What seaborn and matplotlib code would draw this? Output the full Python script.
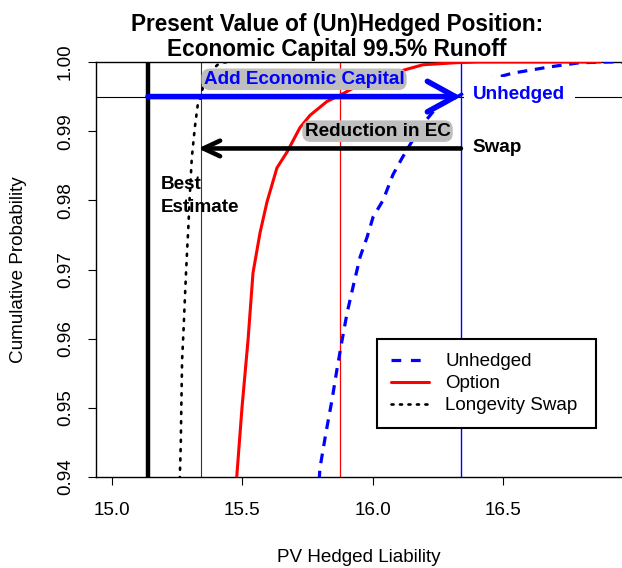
import matplotlib
matplotlib.use("Agg")
import matplotlib.pyplot as plt
import seaborn as sns
import pandas as pd
from matplotlib.lines import Line2D

# ---- data ----
unhedged_x = [15.795, 15.798, 15.821, 15.844, 15.863, 15.883, 15.902, 15.925, 15.952, 15.979,
              16.002, 16.040, 16.078, 16.113, 16.132, 16.182, 16.232, 16.251, 16.29, 16.34,
              16.400, 16.539, 16.681, 16.796, 16.911, 16.96]
unhedged_y = [0.9395, 0.9413, 0.9464, 0.9511, 0.9555, 0.9598, 0.9637, 0.9675, 0.9718, 0.9747,
              0.9776, 0.9800, 0.9837, 0.9861, 0.9873, 0.9905, 0.9928, 0.9935, 0.9943, 0.9953,
              0.9970, 0.9984, 0.9993, 0.9999, 1.0, 1.0]

option_x = [15.478, 15.499, 15.522, 15.541, 15.568, 15.595, 15.633, 15.672, 15.721, 15.760,
            15.825, 15.875, 15.925, 16.028, 16.117, 16.193, 16.32, 16.41, 16.873]
option_y = [0.9397, 0.9501, 0.9598, 0.9695, 0.9753, 0.9798, 0.9847, 0.9870, 0.9905, 0.9923,
            0.9943, 0.9952, 0.9962, 0.9978, 0.9988, 0.9996, 0.9999, 1.0, 1.0]

swap_x = [15.260, 15.264, 15.266, 15.269, 15.274, 15.279, 15.284, 15.289, 15.293, 15.297,
          15.306, 15.318, 15.330, 15.342, 15.349, 15.376, 15.414, 15.45]
swap_y = [0.9397, 0.9449, 0.9501, 0.9569, 0.9608, 0.9652, 0.9695, 0.9733, 0.9761, 0.9796,
          0.9860, 0.9906, 0.9941, 0.9950, 0.9964, 0.9986, 0.9999, 1.0]

best_estimate = 15.138
quantile_swap = 15.342
quantile_option = 15.875
quantile_unhedged = 16.339
level = 0.995
swap_arrow_y = 0.9875

x_ticks = [15.0, 15.5, 16.0, 16.5]
x_tick_labels = ["15.0", "15.5", "16.0", "16.5"]
y_ticks = [0.94, 0.95, 0.96, 0.97, 0.98, 0.99, 1.00]
y_tick_labels = ["0.94", "0.95", "0.96", "0.97", "0.98", "0.99", "1.00"]
series_names = ["Unhedged", "Option", "Longevity Swap"]

# ---- style ----
sns.set_theme(style="ticks")
plt.rcParams["font.family"] = ["Liberation Sans", "DejaVu Sans"]
plt.rcParams["lines.scale_dashes"] = False
for k in ["text.color", "axes.labelcolor", "xtick.color", "ytick.color", "axes.edgecolor"]:
    plt.rcParams[k] = "black"

W, H = 622, 568
fig = plt.figure(figsize=(W / 100, H / 100), dpi=100)
L, R, B, T = 96, 622, 477, 62
ax = fig.add_axes([L / W, 1 - B / H, (R - L) / W, (B - T) / H])

BASE = 13.6
dash_style = (0, (7.0, 5.5))
dot_style = (0, (1.5, 5.2))

# reference lines
ax.axhline(level, color="black", lw=0.8, zorder=1)
ax.axvline(best_estimate, color="black", lw=3.2, zorder=2)
ax.axvline(quantile_swap, color="#333333", lw=0.8, zorder=2)
ax.axvline(quantile_option, color="red", lw=0.9, zorder=2)
ax.axvline(quantile_unhedged, color="blue", lw=1.0, zorder=2)

# curves
df_u = pd.DataFrame({"x": unhedged_x, "y": unhedged_y})
df_o = pd.DataFrame({"x": option_x, "y": option_y})
df_s = pd.DataFrame({"x": swap_x, "y": swap_y})
sns.lineplot(data=df_u, x="x", y="y", ax=ax, sort=False, estimator=None, color="blue",
             lw=2.3, linestyle=dash_style, zorder=3)
sns.lineplot(data=df_o, x="x", y="y", ax=ax, sort=False, estimator=None, color="red",
             lw=2.2, zorder=3)
sns.lineplot(data=df_s, x="x", y="y", ax=ax, sort=False, estimator=None, color="black",
             lw=1.9, linestyle=dot_style, dash_capstyle="round", zorder=3)

# arrows
ax.annotate("", xy=(quantile_unhedged, level), xytext=(best_estimate, level),
            arrowprops=dict(arrowstyle="->,head_length=1.0,head_width=0.55", color="blue",
                            lw=4.0, shrinkA=0, shrinkB=0, mutation_scale=20), zorder=5)
ax.annotate("", xy=(quantile_swap - 0.012, swap_arrow_y), xytext=(quantile_unhedged, swap_arrow_y),
            arrowprops=dict(arrowstyle="->,head_length=0.6,head_width=0.28", color="black",
                            lw=3.3, shrinkA=0, shrinkB=0, mutation_scale=20), zorder=5)

# labels
grey_box = dict(boxstyle="round,pad=0.12,rounding_size=0.45", fc="#bebebe", ec="none")
ax.text(15.737, 0.99750, "Add Economic Capital", color="blue", fontsize=BASE, fontweight="bold",
        ha="center", va="center", bbox=grey_box, zorder=6)
ax.text(16.019, 0.99000, "Reduction in EC", color="black", fontsize=BASE, fontweight="bold",
        ha="center", va="center", bbox=grey_box, zorder=6)
ax.text(16.562, 0.99523, "Unhedged", color="blue", fontsize=BASE, fontweight="bold",
        ha="center", va="center", bbox=dict(boxstyle="square,pad=0.5", fc="white", ec="none"),
        zorder=6)
ax.text(16.385, 0.98771, "Swap", color="black", fontsize=BASE, fontweight="bold",
        ha="left", va="center", zorder=6)
ax.text(15.188, 0.98236, "Best", color="black", fontsize=BASE, fontweight="bold",
        ha="left", va="center", zorder=6)
ax.text(15.188, 0.97903, "Estimate", color="black", fontsize=BASE, fontweight="bold",
        ha="left", va="center", zorder=6)

# axes
ax.set_xlim(15 - 16 / 260.6, 15 + 510 / 260.6)
ax.set_ylim(0.94, 1.00)
ax.set_xticks(x_ticks)
ax.set_xticklabels(x_tick_labels, fontsize=BASE)
ax.set_yticks(y_ticks)
ax.set_yticklabels(y_tick_labels, fontsize=BASE, rotation=90, va="center")
ax.tick_params(axis="x", length=6, width=0.8, pad=12, color="black", labelcolor="black")
ax.tick_params(axis="y", length=6, width=0.8, pad=10, color="black", labelcolor="black")
for s in ["left", "bottom", "top"]:
    ax.spines[s].set_color("black")
    ax.spines[s].set_linewidth(1.0)
ax.spines["right"].set_visible(False)

ax.set_xlabel("PV Hedged Liability", fontsize=BASE, color="black")
ax.set_ylabel("Cumulative Probability", fontsize=BASE, color="black")
ax.xaxis.set_label_coords(0.5, (B - 558) / (B - T))
ax.xaxis.label.set_va("center")
ax.yaxis.set_label_coords((18 - L) / (R - L), 0.5)
ax.yaxis.label.set_va("center")

fig.text(337 / W, 1 - 31 / H, "Present Value of (Un)Hedged Position:", fontsize=16.3,
         fontweight="bold", ha="center", va="baseline", color="black")
fig.text(337 / W, 1 - 56 / H, "Economic Capital 99.5% Runoff", fontsize=16.3,
         fontweight="bold", ha="center", va="baseline", color="black")

# legend
handles = [
    Line2D([], [], color="blue", lw=2.3, linestyle=(0, (7.0, 7.0))),
    Line2D([], [], color="red", lw=2.2),
    Line2D([], [], color="black", lw=1.9, linestyle=(0, (1.5, 4.6)), dash_capstyle="round"),
]
x0 = (377 - L) / (R - L)
x1 = (596 - L) / (R - L)
ytop = (B - 339) / (B - T)
leg = ax.legend(handles, series_names, loc="upper left",
                bbox_to_anchor=(x0, ytop - 0.3, x1 - x0, 0.3), mode="expand",
                borderaxespad=0, fontsize=13.5, frameon=True, fancybox=False,
                framealpha=1, edgecolor="black", handlelength=2.0, handletextpad=0.9,
                borderpad=0.75, labelspacing=0.26)
leg.get_frame().set_linewidth(1.5)
for t in leg.get_texts():
    t.set_color("black")
leg.set_zorder(7)

fig.savefig("out.png", dpi=100)
